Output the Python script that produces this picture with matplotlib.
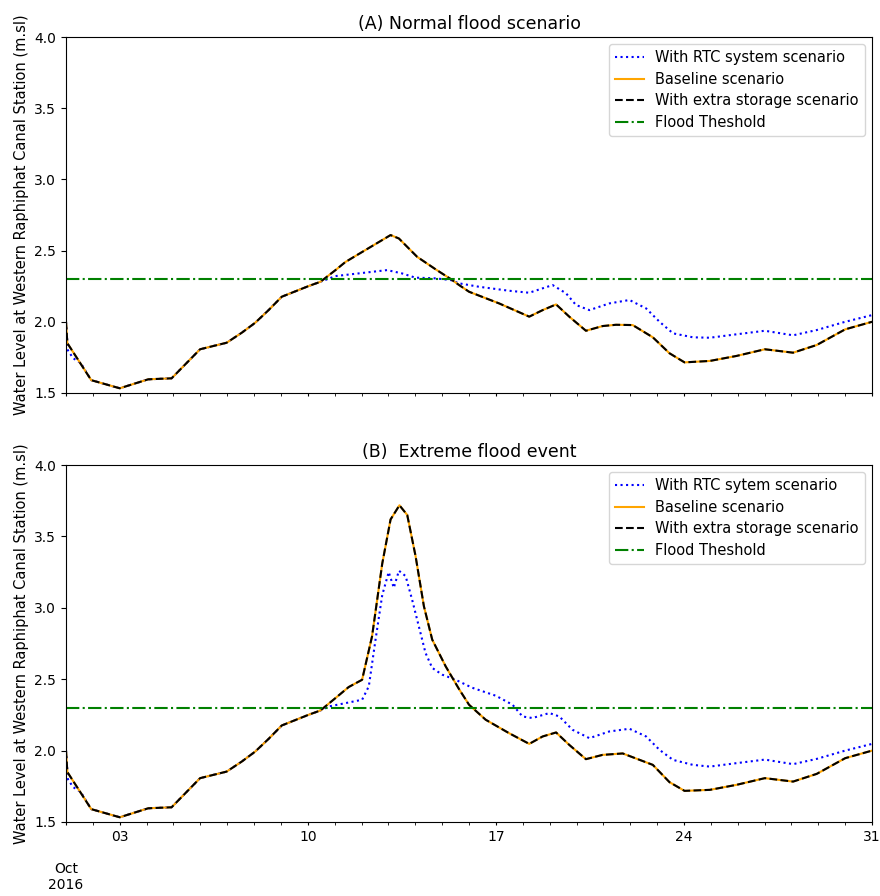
import matplotlib
matplotlib.use("Agg")
import matplotlib.pyplot as plt
import matplotlib.dates as mdates
import pandas as pd

# time as day of October 2016 (fractional), water level in m.sl
base_a_t = [1.0, 1.05, 1.94, 3.0, 4.06, 4.93, 5.99, 6.98, 7.54, 8.04, 8.54, 9.03, 10.03, 10.47,
            11.03, 11.4, 12.02, 13.08, 13.39, 14.07, 14.76, 15.32, 15.63, 16.0, 17.12, 18.24, 18.74,
            19.24, 19.73, 20.35, 20.97, 21.47, 22.09, 22.84, 23.46, 24.02, 24.96, 25.95, 27.01,
            28.06, 28.94, 30.0, 31.0]
base_a_v = [2.0, 1.85, 1.59, 1.533, 1.596, 1.603, 1.807, 1.853, 1.923, 1.993, 2.082, 2.176, 2.251, 2.281,
            2.363, 2.42, 2.49, 2.609, 2.585, 2.456, 2.368, 2.30, 2.258, 2.211, 2.129, 2.036, 2.082,
            2.122, 2.036, 1.937, 1.97, 1.979, 1.977, 1.891, 1.779, 1.715, 1.725, 1.76, 1.807,
            1.783, 1.837, 1.947, 2.0]

rtc_a_t = [1.0, 1.07, 1.26, 1.55, 1.94, 3.0, 4.06, 4.93, 5.99, 6.98, 7.54, 8.04, 8.54, 9.03, 10.03, 10.47,
           11.03, 11.9, 12.95, 13.5, 14.0, 14.76, 15.32, 15.63, 16.37, 17.49, 18.24, 19.11, 19.61,
           19.98, 20.48, 21.22, 21.97, 22.59, 23.09, 23.59, 24.33, 24.96, 25.95, 27.01, 28.06,
           28.94, 30.0, 31.0]
rtc_a_v = [2.0, 1.80, 1.745, 1.71, 1.59, 1.533, 1.596, 1.603, 1.807, 1.853, 1.923, 1.993, 2.082, 2.176, 2.251, 2.281,
           2.321, 2.34, 2.363, 2.34, 2.31, 2.305, 2.293, 2.27, 2.246, 2.218, 2.204, 2.258, 2.2,
           2.118, 2.082, 2.129, 2.153, 2.094, 2.0, 1.919, 1.891, 1.888, 1.912, 1.937, 1.905,
           1.942, 2.0, 2.047]

base_b_t = [1.0, 1.05, 1.94, 3.0, 4.06, 4.93, 5.99, 6.98, 7.54, 8.04, 8.54, 9.03, 10.03, 10.47,
            11.03, 11.52, 12.02, 12.39, 12.77, 13.08, 13.41, 13.7, 14.01, 14.32, 14.63, 15.13, 15.63,
            16.0, 16.62, 17.49, 18.24, 18.74, 19.24, 19.73, 20.35, 20.97, 21.72, 22.84, 23.46,
            24.02, 24.96, 25.95, 27.01, 28.06, 28.94, 30.0, 31.0]
base_b_v = [2.0, 1.85, 1.59, 1.533, 1.596, 1.603, 1.807, 1.853, 1.923, 1.993, 2.082, 2.176, 2.251, 2.281,
            2.368, 2.445, 2.496, 2.80, 3.31, 3.619, 3.718, 3.65, 3.362, 3.011, 2.777, 2.59, 2.43,
            2.321, 2.216, 2.122, 2.047, 2.099, 2.127, 2.04, 1.94, 1.97, 1.98, 1.9, 1.779,
            1.718, 1.725, 1.76, 1.807, 1.783, 1.837, 1.947, 2.0]

rtc_b_t = [1.0, 1.07, 1.26, 1.55, 1.94, 3.0, 4.06, 4.93, 5.99, 6.98, 7.54, 8.04, 8.54, 9.03, 10.03, 10.47,
           10.78, 11.52, 12.02, 12.27, 12.52, 12.77, 13.01, 13.2, 13.39, 13.64, 13.88, 14.13, 14.38,
           14.63, 15.0, 15.5, 16.12, 17.0, 17.62, 17.99, 18.36, 18.99, 19.36, 19.85, 20.48, 21.22,
           21.97, 22.59, 23.09, 23.59, 24.33, 24.96, 25.95, 27.01, 28.06, 28.94, 30.0, 31.0]
rtc_b_v = [2.0, 1.80, 1.745, 1.71, 1.59, 1.533, 1.596, 1.603, 1.807, 1.853, 1.923, 1.993, 2.082, 2.176, 2.251, 2.281,
           2.309, 2.337, 2.356, 2.45, 2.777, 3.09, 3.25, 3.14, 3.26, 3.222, 3.058, 2.871, 2.684,
           2.579, 2.532, 2.496, 2.44, 2.384, 2.321, 2.239, 2.228, 2.263, 2.239, 2.146, 2.087, 2.134,
           2.153, 2.099, 2.005, 1.935, 1.9, 1.888, 1.912, 1.937, 1.905, 1.942, 2.0, 2.047]

flood_threshold = 2.3
titles = ['(A) Normal flood scenario', '(B)  Extreme flood event']
rtc_labels = ['With RTC system scenario', 'With RTC sytem scenario']
ylabel = 'Water Level at Western Raphiphat Canal Station (m.sl)'


def to_dates(days):
    return pd.Timestamp('2016-10-01') + pd.to_timedelta([d - 1 for d in days], unit='D')


fig = plt.figure(figsize=(8.8, 8.96), dpi=100)
ax_a = fig.add_axes([0.075, 0.5614, 0.916, 0.3973])
ax_b = fig.add_axes([0.075, 0.0826, 0.916, 0.3984])

panels = [(ax_a, base_a_t, base_a_v, rtc_a_t, rtc_a_v),
          (ax_b, base_b_t, base_b_v, rtc_b_t, rtc_b_v)]

start = pd.Timestamp('2016-10-01')
end = pd.Timestamp('2016-10-31')
major_days = [1, 3, 10, 17, 24, 31]
major_labels = ['\n\nOct\n2016', '03', '10', '17', '24', '31']

for i, (ax, bt, bv, rt, rv) in enumerate(panels):
    ax.plot(to_dates(rt), rv, color='blue', linestyle=':', linewidth=1.5, label=rtc_labels[i])
    ax.plot(to_dates(bt), bv, color='orange', linestyle='-', linewidth=1.5, label='Baseline scenario')
    ax.plot(to_dates(bt), bv, color='black', linestyle='--', linewidth=1.5,
            label='With extra storage scenario')
    ax.axhline(flood_threshold, color='green', linestyle='-.', linewidth=1.5, label='Flood Theshold')

    ax.set_xlim(start, end)
    ax.set_ylim(1.5, 4.0)
    ax.set_yticks([1.5, 2.0, 2.5, 3.0, 3.5, 4.0])
    ax.set_title(titles[i], fontsize=12.5)
    ax.set_ylabel(ylabel, fontsize=10.5)
    ax.legend(loc='upper right', fontsize=10.5, labelspacing=0.45)

    ax.xaxis.set_minor_locator(mdates.DayLocator())
    ax.set_xticks(to_dates(major_days))
    if i == 1:
        ax.set_xticklabels(major_labels)
    else:
        ax.set_xticklabels([])
    ax.tick_params(axis='x', which='both', length=2)

fig.savefig('out.png', dpi=100)
